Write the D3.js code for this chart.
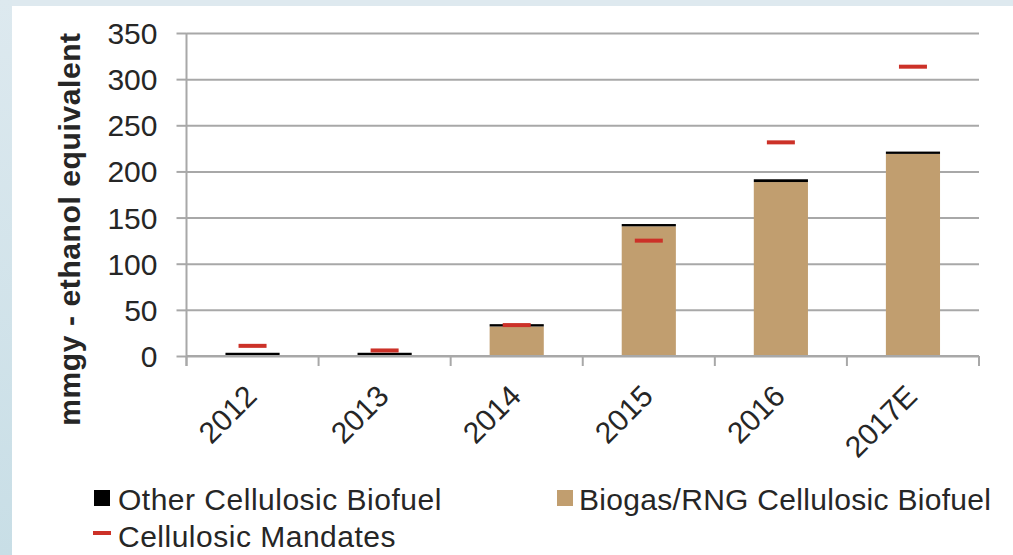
<!DOCTYPE html>
<html>
<head>
<meta charset="utf-8">
<script src="https://cdn.jsdelivr.net/npm/d3@7"></script>
<style>
  html, body { margin: 0; padding: 0; background: #fff; }
  svg { display: block; }
  text { font-family: "Liberation Sans", Arial, sans-serif; fill: #262626; }
</style>
</head>
<body>
<svg id="chart" width="1013" height="555"></svg>
<script>
// ---- data ----
const categories = ["2012", "2013", "2014", "2015", "2016", "2017E"];
const biogas = [0, 0.5, 32, 140.5, 188.5, 219];
const otherCellulosic = [3.5, 3, 2.5, 2.5, 3, 2.5];
const mandates = [11, 6, 33.5, 125, 231.5, 313.5];
const yTicks = [0, 50, 100, 150, 200, 250, 300, 350];
const seriesNames = ["Other Cellulosic Biofuel", "Biogas/RNG Cellulosic Biofuel", "Cellulosic Mandates"];
const yTitle = "mmgy - ethanol equivalent";

const colors = { other: "#000000", biogas: "#c19e6f", mandate: "#cc3128", grid: "#a8a8a8" };

const svg = d3.select("#chart");
const W = 1013, H = 555;

// background frame
const defs = svg.append("defs");
const grad = defs.append("linearGradient").attr("id", "leftGrad")
  .attr("x1", 0).attr("y1", 0).attr("x2", 0).attr("y2", 1);
grad.append("stop").attr("offset", "0%").attr("stop-color", "#dde9ef");
grad.append("stop").attr("offset", "100%").attr("stop-color", "#c8dee6");
svg.append("rect").attr("x", 0).attr("y", 0).attr("width", W).attr("height", H).attr("fill", "#ffffff");
svg.append("rect").attr("x", 0).attr("y", 0).attr("width", W).attr("height", 6).attr("fill", "#dee9ef");
svg.append("rect").attr("x", 0).attr("y", 0).attr("width", 12).attr("height", H).attr("fill", "url(#leftGrad)");

// scales
const x0 = 186.5, x1 = 979;
const y = d3.scaleLinear().domain([0, 350]).range([356, 33]);
const x = d3.scaleBand().domain(categories).range([x0, x1]).paddingInner(0.59).paddingOuter(0.295);
const step = x.step();

// gridlines via axis
const yAxis = d3.axisLeft(y).tickValues(yTicks).tickSize(-(x1 - x0)).tickSizeOuter(0).tickPadding(0).tickFormat("");
const gGrid = svg.append("g").attr("transform", `translate(${x0},0)`).call(yAxis);
gGrid.select(".domain").remove();
gGrid.selectAll(".tick line").attr("stroke", colors.grid).attr("stroke-width", 2);
// outside ticks
gGrid.selectAll(".tick").append("line").attr("x1", -10).attr("x2", 0).attr("stroke", colors.grid).attr("stroke-width", 2);
// tick labels
gGrid.selectAll(".tick").append("text")
  .attr("x", -29).attr("dy", "0.35em").attr("text-anchor", "end")
  .style("font-size", "30px")
  .text(d => d);

// y axis line
svg.append("line").attr("x1", x0).attr("x2", x0).attr("y1", y(350)).attr("y2", y(0) + 10)
  .attr("stroke", colors.grid).attr("stroke-width", 2);

// x axis ticks at band boundaries
const boundaries = d3.range(categories.length + 1).map(i => x0 + i * step);
svg.selectAll(".xtick").data(boundaries).enter().append("line")
  .attr("x1", d => d).attr("x2", d => d).attr("y1", y(0)).attr("y2", y(0) + 10)
  .attr("stroke", colors.grid).attr("stroke-width", 2);

// bars (stacked)
const rows = categories.map((c, i) => ({ cat: c, biogas: biogas[i], other: otherCellulosic[i], mandate: mandates[i] }));
svg.selectAll(".bio").data(rows).enter().append("rect")
  .attr("x", d => x(d.cat)).attr("width", x.bandwidth())
  .attr("y", d => y(d.biogas)).attr("height", d => y(0) - y(d.biogas))
  .attr("fill", colors.biogas);
svg.selectAll(".oth").data(rows).enter().append("rect")
  .attr("x", d => x(d.cat)).attr("width", x.bandwidth())
  .attr("y", d => y(d.biogas + d.other)).attr("height", d => y(d.biogas) - y(d.biogas + d.other))
  .attr("fill", colors.other);

// x axis baseline
svg.append("line").attr("x1", x0).attr("x2", x1).attr("y1", y(0)).attr("y2", y(0))
  .attr("stroke", colors.grid).attr("stroke-width", 2);

// mandate markers
svg.selectAll(".mand").data(rows).enter().append("rect")
  .attr("x", d => x(d.cat) + x.bandwidth() / 2 - 14).attr("width", 28)
  .attr("y", d => y(d.mandate) - 2).attr("height", 4)
  .attr("fill", colors.mandate);

// x labels
svg.selectAll(".xlab").data(categories).enter().append("text")
  .attr("text-anchor", "end")
  .attr("transform", d => `translate(${x(d) + x.bandwidth() / 2 + 6},398) rotate(-45)`)
  .style("font-size", "30px")
  .text(d => d);

// y title
svg.append("text")
  .attr("transform", `translate(80,229) rotate(-90)`)
  .attr("text-anchor", "middle")
  .style("font-size", "30px").style("font-weight", "bold").style("letter-spacing", "0.6px")
  .text(yTitle);

// legend
const leg = svg.append("g");
leg.append("rect").attr("x", 94).attr("y", 490).attr("width", 16).attr("height", 16).attr("fill", colors.other);
leg.append("text").attr("x", 118).attr("y", 510).style("font-size", "30px").style("letter-spacing", "0.5px").text(seriesNames[0]);
leg.append("rect").attr("x", 557).attr("y", 490).attr("width", 16).attr("height", 16).attr("fill", colors.biogas);
leg.append("text").attr("x", 579).attr("y", 510).style("font-size", "30px").style("letter-spacing", "0.3px").text(seriesNames[1]);
leg.append("rect").attr("x", 93).attr("y", 531).attr("width", 18).attr("height", 4).attr("fill", colors.mandate);
leg.append("text").attr("x", 118).attr("y", 547).style("font-size", "30px").style("letter-spacing", "0.5px").text(seriesNames[2]);
</script>
</body>
</html>
